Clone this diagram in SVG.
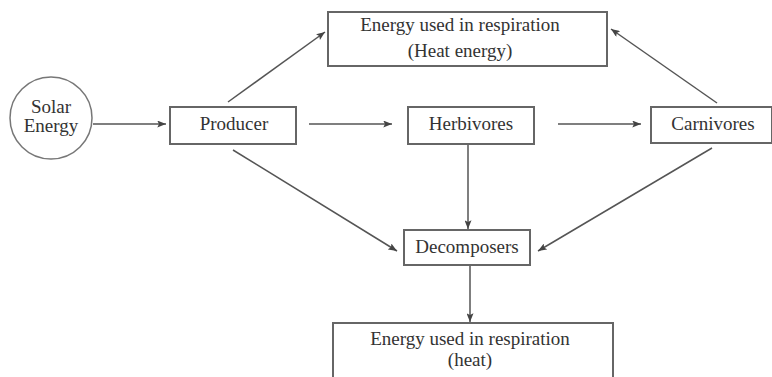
<svg xmlns="http://www.w3.org/2000/svg" width="772" height="377" viewBox="0 0 772 377">
<style>
.box{fill:#fff;stroke:#666;stroke-width:2}
.t{font-family:"Liberation Serif","Times New Roman",serif;font-size:19px;fill:#333;text-anchor:middle}
.c{stroke:#555;stroke-width:1.5;fill:none;marker-end:url(#ah)}
</style>
<defs>
<marker id="ah" viewBox="0 0 10 8" refX="10" refY="4" markerWidth="9" markerHeight="7" markerUnits="userSpaceOnUse" orient="auto">
<path d="M0,0 L10,4 L0,8 L2,4 Z" fill="#444"/>
</marker>
</defs>
<rect width="772" height="377" fill="#fff"/>
<g id="connectors">
<line class="c" x1="93" y1="124" x2="166" y2="124"/>
<line class="c" x1="309" y1="124" x2="392" y2="124"/>
<line class="c" x1="558" y1="124" x2="641" y2="124"/>
<line class="c" x1="228" y1="102" x2="325" y2="32"/>
<line class="c" x1="717" y1="103" x2="611" y2="29"/>
<line class="c" x1="233" y1="150" x2="397" y2="251"/>
<line class="c" x1="712" y1="148" x2="538" y2="251"/>
<line class="c" x1="468" y1="145" x2="468" y2="229"/>
<line class="c" x1="470" y1="265" x2="470" y2="322"/>
</g>
<g id="solar">
<circle cx="51" cy="118" r="41" fill="#fff" stroke="#777" stroke-width="1.5"/>
<text class="t" x="51" y="113">Solar</text>
<text class="t" x="51" y="132">Energy</text>
</g>
<g id="producer">
<rect class="box" x="170" y="107" width="126" height="37"/>
<text class="t" x="234" y="130">Producer</text>
</g>
<g id="herbivores">
<rect class="box" x="408" y="107" width="126" height="37"/>
<text class="t" x="471" y="130">Herbivores</text>
</g>
<g id="carnivores">
<rect class="box" x="651" y="107" width="121" height="36"/>
<text class="t" x="713" y="130">Carnivores</text>
</g>
<g id="heat-top">
<rect class="box" x="328" y="12" width="279" height="54"/>
<text class="t" x="460" y="31">Energy used in respiration</text>
<text class="t" x="460" y="57">(Heat energy)</text>
</g>
<g id="decomposers">
<rect class="box" x="404" y="230" width="126" height="35"/>
<text class="t" x="467" y="253">Decomposers</text>
</g>
<g id="heat-bottom">
<rect class="box" x="333" y="323" width="280" height="70"/>
<text class="t" x="470" y="345">Energy used in respiration</text>
<text class="t" x="470" y="366">(heat)</text>
</g>
</svg>
